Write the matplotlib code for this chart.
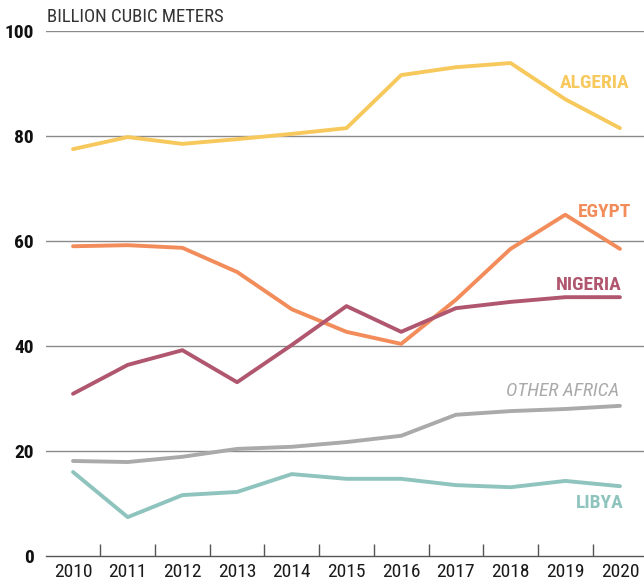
import matplotlib.pyplot as plt
from matplotlib.ticker import FixedLocator

plt.rcParams['font.family'] = ['Roboto Condensed', 'Liberation Sans Narrow', 'Roboto', 'DejaVu Sans']

years = [2010, 2011, 2012, 2013, 2014, 2015, 2016, 2017, 2018, 2019, 2020]
algeria = [77.5, 79.8, 78.5, 79.4, 80.4, 81.5, 91.6, 93.1, 93.9, 87.0, 81.5]
egypt = [59.0, 59.2, 58.7, 54.1, 47.0, 42.7, 40.4, 48.8, 58.5, 65.0, 58.5]
nigeria = [30.9, 36.4, 39.2, 33.1, 40.2, 47.6, 42.7, 47.2, 48.4, 49.3, 49.3]
other_africa = [18.1, 17.9, 18.9, 20.4, 20.8, 21.7, 22.9, 26.9, 27.6, 28.0, 28.6]
libya = [16.0, 7.4, 11.6, 12.2, 15.6, 14.7, 14.7, 13.5, 13.1, 14.3, 13.3]

# name, values, colour, label x, label y, style
series = [
    ('ALGERIA', algeria, '#f7c85c', 2020.18, 90.0, 'normal'),
    ('EGYPT', egypt, '#f28c5a', 2020.2, 65.6, 'normal'),
    ('NIGERIA', nigeria, '#b0576f', 2020.04, 51.6, 'normal'),
    ('OTHER AFRICA', other_africa, '#aaaaaa', 2019.98, 31.4, 'italic'),
    ('LIBYA', libya, '#8ec4bd', 2020.07, 10.0, 'normal'),
]

fig = plt.figure(figsize=(6.44, 5.81), dpi=100)
ax = fig.add_axes([46/644, 25/581, 598/644, 525/581])

for y in [20, 40, 60, 80, 100]:
    ax.axhline(y, color='#8a8a8a', lw=1, zorder=1)

for name, vals, col, lx, ly, style in series:
    ax.plot(years, vals, color=col, lw=2.8, solid_capstyle='round', zorder=3)
    ax.text(lx, ly, name, color=col, fontsize=14, fontweight='bold' if style == 'normal' else 'normal',
            fontstyle=style, ha='right', va='center')

ax.set_xlim(2009.506, 2020.44)
ax.set_ylim(0, 100)
ax.set_xticks(years)
ax.set_xticklabels([str(y) for y in years], fontsize=14, color='#1a1a1a')
ax.xaxis.set_minor_locator(FixedLocator([y - 0.5 for y in years]))
ax.tick_params(axis='x', which='major', length=0, pad=5)
ax.tick_params(axis='x', which='minor', direction='in', length=9, width=1, color='#555555')
ax.set_yticks([0, 20, 40, 60, 80, 100])
ax.set_yticklabels(['0', '20', '40', '60', '80', '100'], fontsize=14, fontweight='bold', color='#111111')
ax.tick_params(axis='y', length=0, pad=9)

for s in ['top', 'right', 'left']:
    ax.spines[s].set_visible(False)
ax.spines['bottom'].set_color('#555555')
ax.spines['bottom'].set_linewidth(1)

fig.text(47/644, 1 - 17/581, 'BILLION CUBIC METERS', fontsize=13.5, color='#333333', va='center', ha='left')

fig.savefig('out.png', dpi=100)
